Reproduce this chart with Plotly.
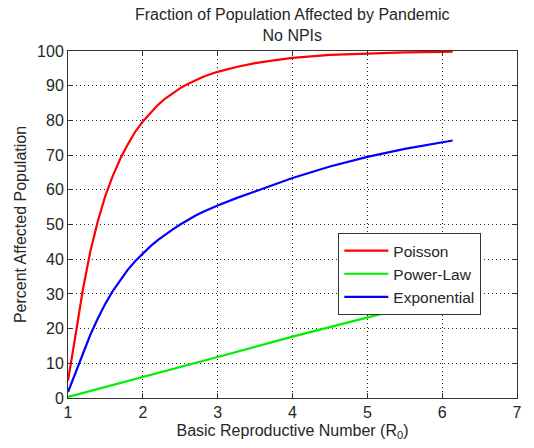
import plotly.graph_objects as go

# Basic reproductive number samples shared by the Poisson and exponential curves
r0 = [1.0, 1.05, 1.1, 1.2, 1.3, 1.4, 1.5, 1.6, 1.7, 1.8, 1.9, 2.0, 2.1, 2.2,
      2.3, 2.4, 2.5, 2.6, 2.7, 2.8, 2.9, 3.0, 3.25, 3.5, 3.75, 4.0, 4.5, 5.0,
      5.5, 6.0, 6.14]

# Percent of population affected, Poisson degree distribution
poisson = [5, 11, 18, 31.4, 42.4, 51.1, 58.3, 64.1, 69.0, 73.1, 76.8, 79.7,
           82.2, 84.4, 86.3, 87.9, 89.3, 90.5, 91.6, 92.5, 93.3, 94.0, 95.4,
           96.5, 97.3, 98.0, 98.9, 99.3, 99.6, 99.75, 99.8]

# Exponential degree distribution
exponential = [1.7, 4.5, 7.3, 13.0, 18.3, 23.0, 27.2, 30.9, 34.1, 37.0, 39.5,
               41.7, 43.7, 45.5, 47.1, 48.6, 50.0, 51.3, 52.5, 53.6, 54.6,
               55.5, 57.6, 59.5, 61.5, 63.4, 66.7, 69.5, 71.8, 73.7, 74.2]

# Power-law degree distribution
r0_pl = [1.0, 2.0, 3.0, 4.0, 5.0, 6.0, 6.14]
power_law = [0.3, 6.0, 11.8, 17.7, 23.3, 28.7, 29.4]

x_ticks = [1, 2, 3, 4, 5, 6, 7]
y_ticks = [0, 10, 20, 30, 40, 50, 60, 70, 80, 90, 100]

FONT = "Liberation Sans, Arial, sans-serif"
TXT = "#262626"
FS = 16

fig = go.Figure()
fig.add_trace(go.Scatter(x=r0, y=poisson, mode="lines", name="Poisson",
                         line=dict(color="#ff0000", width=2.2)))
fig.add_trace(go.Scatter(x=r0_pl, y=power_law, mode="lines", name="Power-Law",
                         line=dict(color="#00ee00", width=2.2)))
fig.add_trace(go.Scatter(x=r0, y=exponential, mode="lines", name="Exponential",
                         line=dict(color="#0000ff", width=2.2)))

axis_common = dict(
    showline=True, linecolor="#333333", linewidth=1, mirror="ticks",
    ticks="inside", ticklen=5, tickcolor="#333333",
    showgrid=True, gridcolor="#222222", gridwidth=1, griddash="1px,3px",
    zeroline=False, tickfont=dict(family=FONT, size=FS, color=TXT),
)

fig.update_layout(
    width=534, height=448,
    margin=dict(l=68, r=12, t=51, b=50),
    paper_bgcolor="white", plot_bgcolor="white",
    font=dict(family=FONT, size=FS, color=TXT),
    xaxis=dict(range=[1, 7], tickvals=x_ticks,
               title=dict(text="Basic Reproductive Number (R<sub>0</sub>)",
                          standoff=4, font=dict(family=FONT, size=FS, color=TXT)),
               **axis_common),
    yaxis=dict(range=[0, 100], tickvals=y_ticks,
               title=dict(text="Percent Affected Population", standoff=6,
                          font=dict(family=FONT, size=FS, color=TXT)),
               **axis_common),
    legend=dict(x=0.602, y=0.4755, xanchor="left", yanchor="top",
                bgcolor="white", bordercolor="#333333", borderwidth=1,
                font=dict(family=FONT, size=15.5, color=TXT),
                tracegroupgap=0, itemwidth=44),
    showlegend=True,
)

# Two-line chart title above the axes
fig.add_annotation(text="Fraction of Population Affected by Pandemic<br>No NPIs",
                   xref="paper", yref="paper", x=0.5, y=1.0, yshift=5,
                   xanchor="center", yanchor="bottom", showarrow=False,
                   font=dict(family=FONT, size=FS, color=TXT))

fig.write_html("out.html")
